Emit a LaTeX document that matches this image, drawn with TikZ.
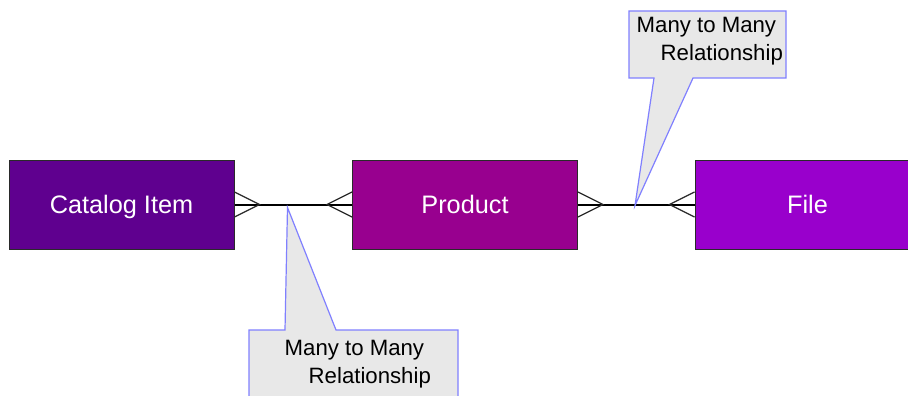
\documentclass[tikz,border=0pt]{standalone}
\usepackage{fontspec}
\setmainfont{Liberation Sans}
\usetikzlibrary{calc}
\definecolor{catfill}{HTML}{5F008F}
\definecolor{prodfill}{HTML}{98008F}
\definecolor{filefill}{HTML}{9900CC}
\definecolor{notefill}{HTML}{E8E8E8}
\definecolor{noteline}{HTML}{8080FF}
\definecolor{edge}{HTML}{2A2A2A}
\tikzset{
  entity/.style={draw=edge, line width=1pt, minimum width=225pt, minimum height=89pt,
    inner sep=0pt, text height=18pt, text depth=0pt, text=white,
    font=\fontsize{25.3}{30}\selectfont},
  relline/.style={black, line width=2pt},
  crowfoot/.style={edge, line width=1.3pt},
  note/.style={fill=notefill, draw=noteline, line width=1.2pt, line join=miter},
  notetext/.style={inner sep=0pt, anchor=base west, text=black, font=\fontsize{22.2}{26}\selectfont}
}
\begin{document}
\begin{tikzpicture}[x=1pt, y=-1pt]
\useasboundingbox (0,0) rectangle (908,396);
\clip (0,0) rectangle (908,396);
\fill[white] (0,0) rectangle (908,396);

% entities
\node[entity, fill=catfill]  (cat)  at (121.5,204.5) {Catalog Item};
\node[entity, fill=prodfill] (prod) at (465,204.5)   {Product};
\node[entity, fill=filefill] (file) at (807.5,204.5) {File};

% relationship lines
\draw[relline] (cat.east) -- (prod.west);
\draw[relline] (prod.east) -- (file.west);

% many-side crow's feet
\foreach \n/\d in {cat/east, prod/east} {
  \draw[crowfoot] ($(\n.\d)+(0,-12.5)$) -- ($(\n.\d)+(25,0)$) -- ($(\n.\d)+(0,12.5)$);
}
\foreach \n/\d in {prod/west, file/west} {
  \draw[crowfoot] ($(\n.\d)+(0,-12.5)$) -- ($(\n.\d)+(-25,0)$) -- ($(\n.\d)+(0,12.5)$);
}

% callout pointing at the first relationship
\coordinate (tipA) at ($(cat.east)+(53,3)$);
\draw[note] (249,330) -- (285,330) -- (tipA) -- (336,330) -- (458,330)
  -- (458,420) -- (249,420) -- cycle;
\node[notetext] (noteA1) at (284.5,355) {Many to Many};
\node[notetext] (noteA2) at (308.5,383) {Relationship};

% callout pointing at the second relationship
\coordinate (tipB) at ($(prod.east)+(57,1)$);
\draw[note] (629,11) -- (786,11) -- (786,78) -- (693,78) -- (tipB) -- (654,78)
  -- (629,78) -- cycle;
\node[notetext] (noteB1) at (636.5,33) {Many to Many};
\node[notetext] (noteB2) at (660.5,60) {Relationship};
\end{tikzpicture}
\end{document}
